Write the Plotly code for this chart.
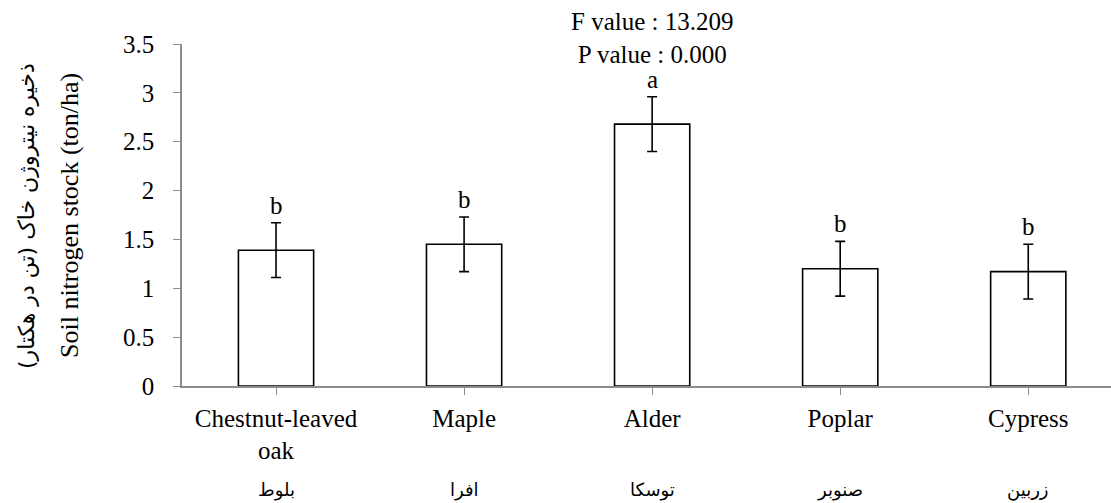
import plotly.graph_objects as go

species_en = ["Chestnut-leaved<br>oak", "Maple", "Alder", "Poplar", "Cypress"]
species_fa = ["بلوط", "افرا", "توسکا", "صنوبر", "زربین"]
nitrogen_stock = [1.39, 1.45, 2.68, 1.20, 1.17]
std_error = [0.28, 0.28, 0.28, 0.28, 0.28]
letters = ["b", "b", "a", "b", "b"]
y_ticks = [0, 0.5, 1, 1.5, 2, 2.5, 3, 3.5]
y_tick_text = ["0", "0.5", "1", "1.5", "2", "2.5", "3", "3.5"]

serif = "Liberation Serif, Times New Roman, serif"
fa_font = "DejaVu Sans, Noto Sans, sans-serif"
FS = 25

fig = go.Figure()
fig.add_trace(go.Bar(
    x=list(range(len(species_en))),
    y=nitrogen_stock,
    width=0.40,
    marker=dict(color="white", line=dict(color="black", width=1.6)),
    error_y=dict(type="data", array=std_error, visible=True,
                 color="black", thickness=1.6, width=5),
    showlegend=False,
))

annotations = []
for i, (v, e, l) in enumerate(zip(nitrogen_stock, std_error, letters)):
    annotations.append(dict(x=i, y=v + e, text=l, showarrow=False,
                            yanchor="bottom", yshift=2,
                            font=dict(family=serif, size=FS, color="black")))
for i, t in enumerate(species_fa):
    annotations.append(dict(x=i, y=-0.304, xref="x", yref="paper", text=t,
                            showarrow=False, yanchor="middle",
                            font=dict(family=fa_font, size=18, color="black")))
annotations.append(dict(x=2, y=1.0, xref="x", yref="paper",
                        text="F value : 13.209<br>P value : 0.000",
                        showarrow=False, yanchor="bottom", yshift=-26,
                        font=dict(family=serif, size=FS, color="black")))
annotations.append(dict(x=(69 - 182) / 929, y=0.497, xref="paper", yref="paper",
                        xanchor="center", yanchor="middle",
                        text="Soil nitrogen stock (ton/ha)", textangle=-90,
                        showarrow=False,
                        font=dict(family=serif, size=26, color="black")))
annotations.append(dict(x=(26 - 182) / 929, y=0.497, xref="paper", yref="paper",
                        xanchor="center", yanchor="middle",
                        text="ذخیره نیتروژن خاک (تن در هکتار)", textangle=-90,
                        showarrow=False,
                        font=dict(family=fa_font, size=22, color="black")))

fig.update_layout(
    width=1111, height=503,
    margin=dict(l=182, r=0, t=44, b=117),
    paper_bgcolor="white", plot_bgcolor="white",
    annotations=annotations,
    xaxis=dict(
        tickmode="array", tickvals=list(range(len(species_en))), ticktext=species_en,
        range=[-0.5, 4.44], tickson="boundaries",
        ticks="outside", ticklen=7, tickcolor="#8c8c8c",
        showline=True, linecolor="#8c8c8c", linewidth=1.5,
        showgrid=False, zeroline=False, ticklabelstandoff=2,
        tickfont=dict(family=serif, size=FS, color="black"),
    ),
    yaxis=dict(
        range=[0, 3.5], tickmode="array", tickvals=y_ticks, ticktext=y_tick_text,
        ticks="outside", ticklen=7, tickcolor="#8c8c8c",
        showline=True, linecolor="#8c8c8c", linewidth=1.5,
        showgrid=False, zeroline=False, ticklabelstandoff=14,
        tickfont=dict(family=serif, size=FS, color="black"),
    ),
)

fig.write_html("out.html", config={"displayModeBar": False},
               post_script="document.body.style.margin='0';")
